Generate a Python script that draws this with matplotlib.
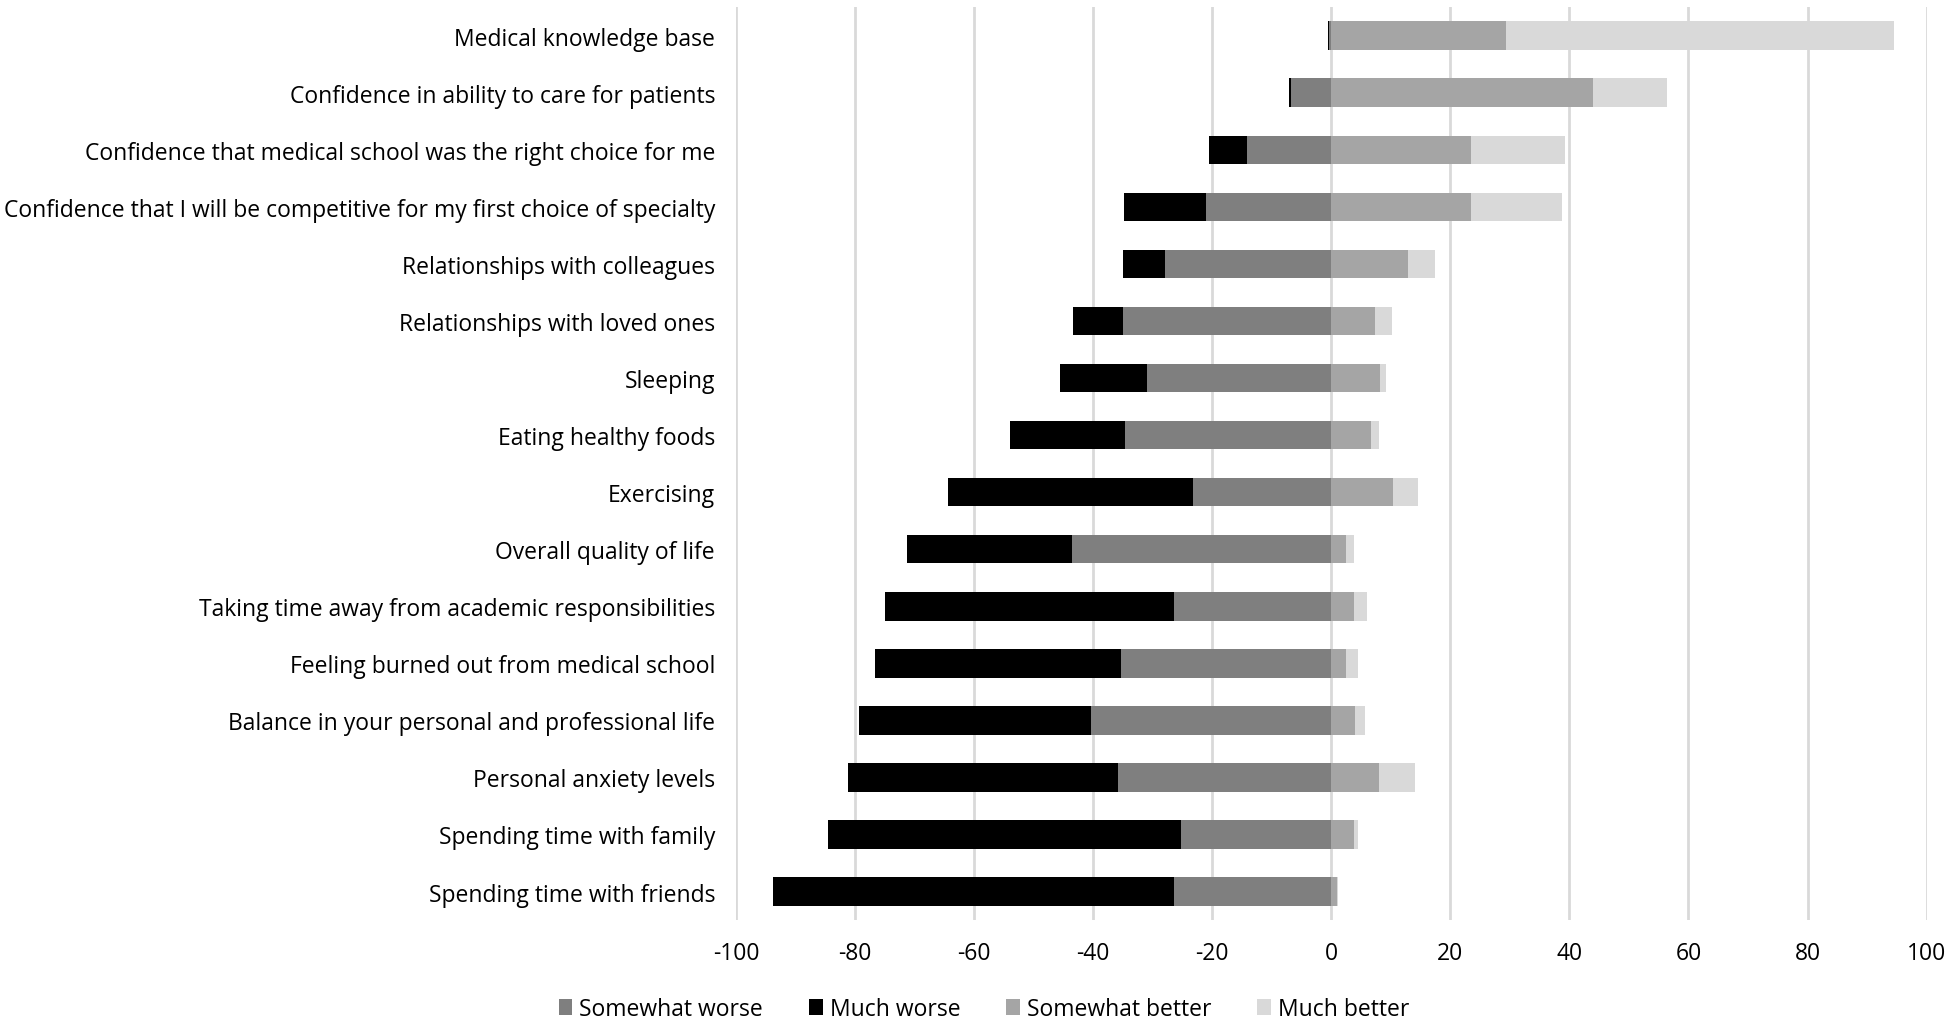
import matplotlib
matplotlib.use("Agg")
import matplotlib.pyplot as plt
import numpy as np

plt.rcParams['font.family'] = ['Open Sans', 'DejaVu Sans']

categories = [
    "Medical knowledge base",
    "Confidence in ability to care for patients",
    "Confidence that medical school was the right choice for me",
    "Confidence that I will be competitive for my first choice of specialty",
    "Relationships with colleagues",
    "Relationships with loved ones",
    "Sleeping",
    "Eating healthy foods",
    "Exercising",
    "Overall quality of life",
    "Taking time away from academic responsibilities",
    "Feeling burned out from medical school",
    "Balance in your personal and professional life",
    "Personal anxiety levels",
    "Spending time with family",
    "Spending time with friends",
]
somewhat_worse = [-0.4, -6.7, -14.2, -21.1, -28.0, -34.9, -30.9, -34.7, -23.3, -43.6, -26.4, -35.3, -40.4, -35.9, -25.2, -26.4]
much_worse = [-0.2, -0.4, -6.3, -13.7, -7.0, -8.4, -14.6, -19.2, -41.1, -27.7, -48.5, -41.4, -39.0, -45.2, -59.4, -67.3]
somewhat_better = [29.4, 43.9, 23.4, 23.4, 12.9, 7.3, 8.2, 6.7, 10.4, 2.5, 3.9, 2.5, 4.0, 8.1, 3.9, 1.0]
much_better = [65.1, 12.5, 15.9, 15.3, 4.5, 2.9, 1.0, 1.3, 4.2, 1.4, 2.1, 2.0, 1.7, 5.9, 0.6, 0.2]
xticks = [-100, -80, -60, -40, -20, 0, 20, 40, 60, 80, 100]

colors = {"sw": "#7f7f7f", "mw": "#000000", "sb": "#a5a5a5", "mb": "#d9d9d9"}

fig = plt.figure(figsize=(19.52, 10.20), dpi=100)
ax = fig.add_axes([0.377, 0.097, 0.61, 0.895])

y = np.arange(len(categories))
h = 0.5
sw = np.array(somewhat_worse)
mw = np.array(much_worse)
sb = np.array(somewhat_better)
mb = np.array(much_better)

ax.barh(y, sw, height=h, color=colors["sw"], label="Somewhat worse", zorder=3)
ax.barh(y, mw, left=sw, height=h, color=colors["mw"], label="Much worse", zorder=3)
ax.barh(y, sb, height=h, color=colors["sb"], label="Somewhat better", zorder=3)
ax.barh(y, mb, left=sb, height=h, color=colors["mb"], label="Much better", zorder=3)

ax.set_xlim(-100, 100)
ax.set_ylim(len(categories) - 0.5, -0.5)
ax.set_xticks(xticks)
ax.set_xticklabels([str(t) for t in xticks], fontsize=16.5)
ax.set_yticks(y)
ax.set_yticklabels(categories, fontsize=16.5)
ax.tick_params(axis='both', length=0)
ax.tick_params(axis='x', pad=15)
ax.tick_params(axis='y', pad=15)
ax.grid(axis='x', color='#d9d9d9', linewidth=2, zorder=0)
for s in ax.spines.values():
    s.set_visible(False)

handles, labels = ax.get_legend_handles_labels()
fig.legend(handles, labels, loc='center', bbox_to_anchor=(0.504, 0.010), ncol=4,
           frameon=False, fontsize=16.5, handlelength=0.6, handleheight=0.7,
           columnspacing=2.0, handletextpad=0.3)

fig.savefig("out.png", dpi=100, facecolor="white")
